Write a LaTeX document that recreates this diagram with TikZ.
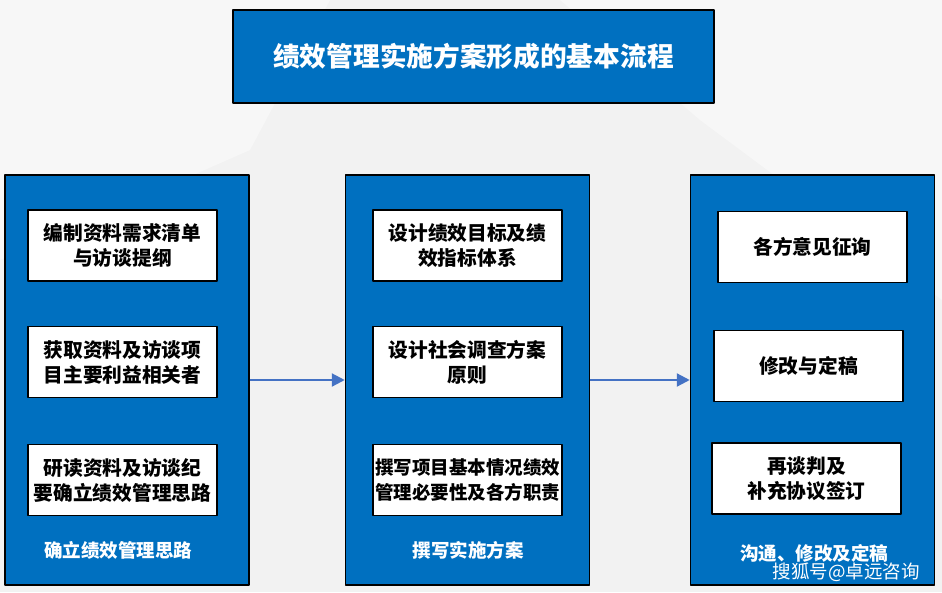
\documentclass[tikz,border=0pt]{standalone}
\usepackage{fontspec}
\newfontfamily\cjk{Noto Sans CJK SC}
\usetikzlibrary{arrows.meta}
\definecolor{colblue}{HTML}{0070C0}
\definecolor{arrowblue}{HTML}{4472C4}
\definecolor{bggray}{HTML}{F2F2F2}

\begin{document}
\begin{tikzpicture}[x=1pt,y=-1pt,line join=round,>={Triangle[length=13pt,width=13pt]},
  col/.style={draw=black,line width=1.5pt,fill=colblue,minimum width=244pt,minimum height=410pt,inner sep=0pt},
  item/.style={draw=black,line width=1.8pt,fill=white,minimum width=189pt,minimum height=71pt,align=center,inner sep=0pt,font=\cjk\bfseries\fontsize{19.7}{25}\selectfont},
  tag/.style={text=white,font=\cjk\bfseries\fontsize{18.5}{22}\selectfont}]
\useasboundingbox (0,0) rectangle (942,592);
% background
\fill[bggray] (0,0) rectangle (942,592);
\fill[white,opacity=0.4] (0,0) -- (330,0) -- (250,150) -- (0,260) -- cycle;
\fill[white,opacity=0.4] (560,0) -- (942,0) -- (942,300) -- (700,120) -- cycle;
% title
\node[draw=black,line width=2pt,fill=colblue,minimum width=481pt,minimum height=93pt,
  text=white,font=\cjk\bfseries\fontsize{26.7}{30}\selectfont] (title) at (473.5,56.5) {绩效管理实施方案形成的基本流程};
% columns
\node[col] (left) at (127,380) {};
\node[col] (middle) at (467.5,380) {};
\node[col] (right) at (812.5,380) {};
\draw[->,arrowblue,line width=2.2pt] (left) -- (middle);
\draw[->,arrowblue,line width=2.2pt] (middle) -- (right);
% left column
\node[item] (l1) at (122.5,245.5) {编制资料需求清单\\与访谈提纲};
\node[item] (l2) at (122.5,362) {获取资料及访谈项\\目主要利益相关者};
\node[item] (l3) at (122.5,480) {研读资料及访谈纪\\要确立绩效管理思路};
\node[tag] (ltag) at (118,550) {确立绩效管理思路};
% middle column
\node[item] (m1) at (467.5,245.5) {设计绩效目标及绩\\效指标体系};
\node[item] (m2) at (467.5,362) {设计社会调查方案\\原则};
\node[item,font=\cjk\bfseries\fontsize{18.5}{25}\selectfont] (m3) at (467.5,480) {撰写项目基本情况绩效\\管理必要性及各方职责};
\node[tag] (mtag) at (468,550) {撰写实施方案};
% right column
\node[item] (r1) at (812.5,247) {各方意见征询};
\node[item] (r2) at (808.5,366) {修改与定稿};
\node[item] (r3) at (806.5,478.5) {再谈判及\\补充协议签订};
\node[tag] (rtag) at (814,553) {沟通、修改及定稿};
% watermark
\node[text=white,font=\cjk\fontsize{18.5}{22}\selectfont] (mark) at (846,572) {搜狐号@卓远咨询};
\end{tikzpicture}
\end{document}
